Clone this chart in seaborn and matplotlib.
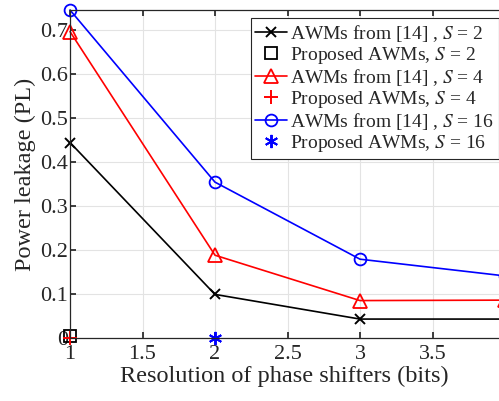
import matplotlib
matplotlib.use("Agg")
import matplotlib.pyplot as plt
import seaborn as sns

bits = [1, 2, 3, 4]
awm_s2 = [0.444, 0.099, 0.043, 0.043]
awm_s4 = [0.696, 0.188, 0.085, 0.086]
awm_s16 = [0.745, 0.354, 0.179, 0.141]
prop_s2_x, prop_s2_y = [1], [0.004]
prop_s4_x, prop_s4_y = [1], [0.0]
prop_s16_x, prop_s16_y = [2], [0.0]
xticks = [1, 1.5, 2, 2.5, 3, 3.5]
yticks = [0, 0.1, 0.2, 0.3, 0.4, 0.5, 0.6, 0.7]

sns.set_theme(style="whitegrid")
plt.rcParams['font.family'] = ['Liberation Serif', 'DejaVu Serif']
plt.rcParams['mathtext.fontset'] = 'stix'

fig = plt.figure(figsize=(4.99, 4.01), dpi=100)
ax = fig.add_axes([70/499, 1-338/401, 1-70/499, (338-10)/401])

lw = 1.2
ms = 8.5
mew = 1.3
sns.lineplot(x=bits, y=awm_s2, ax=ax, color='black', marker='x', markersize=7,
             markeredgewidth=1.4, markeredgecolor='black', linewidth=lw,
             label=r'AWMs from [14] , $S$ = 2', clip_on=False)
sns.lineplot(x=prop_s2_x, y=prop_s2_y, ax=ax, color='black', marker='s', markersize=ms,
             markerfacecolor='none', markeredgecolor='black', markeredgewidth=mew,
             linestyle='none', label=r'Proposed AWMs, $S$ = 2', clip_on=False)
sns.lineplot(x=bits, y=awm_s4, ax=ax, color='red', marker='^', markersize=ms+1,
             markerfacecolor='none', markeredgewidth=mew, markeredgecolor='red', linewidth=lw,
             label=r'AWMs from [14] , $S$ = 4', clip_on=False)
sns.lineplot(x=prop_s4_x, y=prop_s4_y, ax=ax, color='red', marker='+', markersize=ms+2,
             markeredgewidth=1.4, markeredgecolor='red', linestyle='none',
             label=r'Proposed AWMs, $S$ = 4', clip_on=False)
sns.lineplot(x=bits, y=awm_s16, ax=ax, color='blue', marker='o', markersize=ms,
             markerfacecolor='none', markeredgewidth=mew, markeredgecolor='blue', linewidth=lw,
             label=r'AWMs from [14] , $S$ = 16', clip_on=False)
sns.lineplot(x=prop_s16_x, y=prop_s16_y, ax=ax, color='blue', marker=(6, 2, 0), markersize=ms+1,
             markeredgewidth=1.4, markeredgecolor='blue', linestyle='none',
             label=r'Proposed AWMs, $S$ = 16', clip_on=False)

ax.set_xlim(1, 1 + (499-70)/145)
ax.set_ylim(0, 0.745)
ax.set_xticks(xticks)
ax.set_xticklabels([f'{t:g}' for t in xticks])
ax.set_yticks(yticks)
ax.set_yticklabels([f'{t:g}' for t in yticks])
ax.tick_params(axis='both', labelsize=16, direction='in', length=4, color='#262626',
               top=True, bottom=True, left=True, right=False)
ax.tick_params(axis='x', pad=5)
ax.tick_params(axis='y', pad=1.5)
for s in ['left', 'bottom', 'top']:
    ax.spines[s].set_color('#262626')
    ax.spines[s].set_linewidth(0.9)
ax.spines['right'].set_visible(False)
ax.grid(True, color='#e3e3e3', linewidth=0.8)
ax.set_facecolor('white')
ax.set_xlabel('Resolution of phase shifters (bits)', fontsize=17.5, color='#262626', labelpad=1)
ax.set_ylabel('Power leakage (PL)', fontsize=17.5, color='#262626', labelpad=3)
for t in ax.get_xticklabels() + ax.get_yticklabels():
    t.set_color('#262626')

leg = ax.legend(loc='upper right', bbox_to_anchor=(1.0, 1 - 8/328), fontsize=14,
                frameon=True, fancybox=False, edgecolor='#262626', framealpha=1,
                borderpad=0.25, labelspacing=0.05, handlelength=1.6, handletextpad=0.2,
                borderaxespad=0.0)
leg.get_frame().set_linewidth(0.8)

fig.savefig('out.png', dpi=100)
